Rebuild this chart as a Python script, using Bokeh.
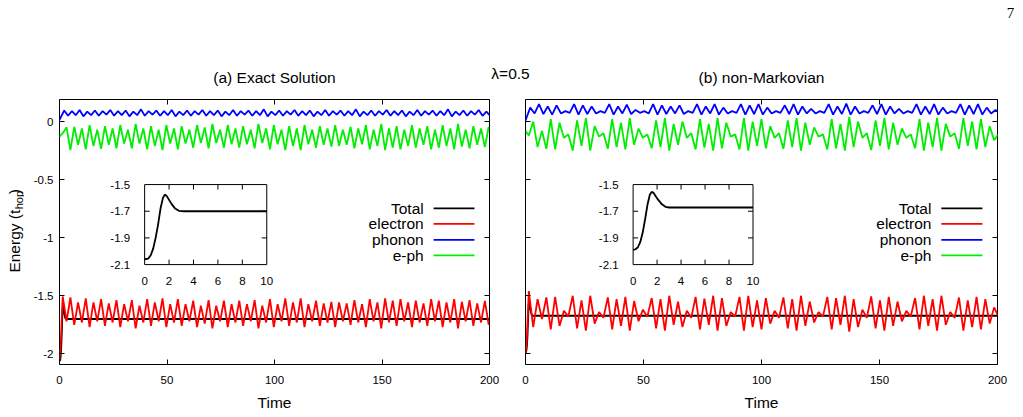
import numpy as np
from bokeh.plotting import figure
from bokeh.models import Range1d, LinearAxis, FixedTicker, CustomJSTickFormatter
from bokeh.layouts import column, row
from bokeh.embed import file_html
from bokeh.resources import INLINE
from bokeh.core.properties import value

# ---------------------------------------------------------------- data
x_ticks = [0, 50, 100, 150, 200]
y_ticks = [0, -0.5, -1, -1.5, -2]
inset_x_ticks = [0, 2, 4, 6, 8, 10]
inset_y_ticks = [-1.5, -1.7, -1.9, -2.1]
series_names = ["Total", "electron", "phonon", "e-ph"]

# (a) exact solution -------------------------------------------------
total_a_t = [0.0, 0.3, 0.5, 0.7, 0.9, 1.1, 1.3, 1.5, 1.65, 1.8, 2.0, 2.2, 2.5, 2.8, 3.2, 10.0, 200.0]
total_a = [-2.06, -2.055, -2.03, -1.98, -1.90, -1.80, -1.68, -1.60, -1.575, -1.585, -1.615,
           -1.645, -1.68, -1.697, -1.70, -1.70, -1.70]

# electron energy: start-up, then successive maxima / minima
elec_a_start_t = [0.0, 0.6]
elec_a_start = [-2.05, -1.90]
elec_a_max = [-1.506, -1.515, -1.557, -1.523, -1.557, -1.529, -1.566, -1.537,
              -1.572, -1.537, -1.586, -1.529, -1.557, -1.523, -1.572, -1.529,
              -1.572, -1.543, -1.586, -1.537, -1.586, -1.543, -1.572, -1.543,
              -1.572, -1.537, -1.586, -1.529, -1.572, -1.523, -1.557, -1.523,
              -1.572, -1.543, -1.566, -1.552, -1.557, -1.566, -1.537, -1.572,
              -1.529, -1.557, -1.523, -1.543, -1.529, -1.557, -1.543, -1.566,
              -1.529, -1.543, -1.557, -1.529, -1.552, -1.537, -1.566, -1.545]
elec_a_min = [-1.72, -1.75, -1.73, -1.77, -1.72, -1.76, -1.73, -1.77,
              -1.72, -1.78, -1.73, -1.76, -1.72, -1.77, -1.73, -1.76,
              -1.72, -1.77, -1.74, -1.78, -1.72, -1.77, -1.73, -1.76,
              -1.72, -1.78, -1.73, -1.77, -1.72, -1.76, -1.73, -1.77,
              -1.72, -1.76, -1.73, -1.77, -1.72, -1.75, -1.73, -1.77,
              -1.72, -1.78, -1.73, -1.76, -1.72, -1.77, -1.73, -1.76,
              -1.72, -1.77, -1.73, -1.78, -1.72, -1.76, -1.73, -1.75]

phon_a_start_t = [0.0]
phon_a_start = [0.015]
phon_a_max = [0.095, 0.09, 0.10, 0.085, 0.095, 0.09, 0.10, 0.09,
              0.095, 0.085, 0.105, 0.09, 0.095, 0.09, 0.10, 0.085,
              0.095, 0.09, 0.10, 0.09, 0.095, 0.085, 0.10, 0.09,
              0.095, 0.09, 0.105, 0.085, 0.095, 0.09, 0.10, 0.09,
              0.095, 0.085, 0.10, 0.09, 0.095, 0.09, 0.105, 0.085,
              0.095, 0.09, 0.10, 0.09, 0.095, 0.085, 0.10, 0.09,
              0.095, 0.09, 0.105, 0.085, 0.095, 0.09, 0.10, 0.085]
phon_a_min = [0.05, 0.055, 0.045, 0.055, 0.05, 0.06, 0.05, 0.055,
              0.045, 0.055, 0.05, 0.06, 0.05, 0.055, 0.045, 0.055,
              0.05, 0.06, 0.05, 0.055, 0.045, 0.055, 0.05, 0.06,
              0.05, 0.055, 0.045, 0.055, 0.05, 0.06, 0.05, 0.055,
              0.045, 0.055, 0.05, 0.06, 0.05, 0.055, 0.045, 0.055,
              0.05, 0.06, 0.05, 0.055, 0.045, 0.055, 0.05, 0.06,
              0.05, 0.055, 0.045, 0.055, 0.05, 0.06, 0.05, 0.05]

eph_a_start_t = [0.0]
eph_a_start = [-0.13]
eph_a_min = [-0.10, -0.245, -0.20, -0.24, -0.21, -0.235, -0.20, -0.23,
             -0.19, -0.23, -0.19, -0.24, -0.21, -0.245, -0.19, -0.24,
             -0.19, -0.225, -0.185, -0.23, -0.185, -0.225, -0.195, -0.225,
             -0.195, -0.23, -0.185, -0.24, -0.195, -0.245, -0.21, -0.245,
             -0.195, -0.225, -0.20, -0.215, -0.21, -0.20, -0.23, -0.195,
             -0.24, -0.21, -0.245, -0.225, -0.24, -0.21, -0.225, -0.20,
             -0.24, -0.225, -0.21, -0.24, -0.215, -0.23, -0.20, -0.22]
eph_a_max = [-0.05, -0.045, -0.06, -0.03, -0.07, -0.04, -0.06, -0.03,
             -0.07, -0.02, -0.06, -0.04, -0.07, -0.03, -0.06, -0.04,
             -0.07, -0.03, -0.05, -0.02, -0.07, -0.03, -0.06, -0.04,
             -0.07, -0.02, -0.06, -0.03, -0.07, -0.04, -0.06, -0.03,
             -0.07, -0.04, -0.06, -0.03, -0.07, -0.045, -0.06, -0.03,
             -0.07, -0.02, -0.06, -0.04, -0.07, -0.03, -0.06, -0.04,
             -0.07, -0.03, -0.06, -0.02, -0.07, -0.04, -0.06, -0.045]

# (b) non-Markovian ----------------------------------------------------
total_b_t = [0.0, 0.2, 0.4, 0.6, 0.8, 1.0, 1.2, 1.4, 1.55, 1.7, 1.9, 2.1, 2.4, 2.7, 3.0, 10.0, 200.0]
total_b = [-1.99, -1.985, -1.97, -1.93, -1.86, -1.76, -1.65, -1.575, -1.555, -1.562, -1.59,
           -1.615, -1.648, -1.667, -1.672, -1.672, -1.672]

elec_b_start_t = [0.0, 0.5]
elec_b_start = [-2.00, -1.90]
elec_b_max = [-1.46, -1.53, -1.515, -1.51, -1.63, -1.50, -1.54, -1.50, -1.64,
              -1.515, -1.53, -1.51, -1.545, -1.62, -1.52, -1.53, -1.50, -1.55,
              -1.63, -1.51, -1.525, -1.50, -1.52, -1.64, -1.51, -1.50, -1.54,
              -1.52, -1.63, -1.515, -1.53, -1.50, -1.55, -1.64, -1.51, -1.52,
              -1.50, -1.53, -1.62, -1.505, -1.54, -1.51, -1.55, -1.63, -1.52,
              -1.50, -1.53, -1.50, -1.64, -1.515, -1.54, -1.51, -1.53, -1.60]
elec_b_min = [-1.77, -1.70, -1.79, -1.76, -1.68, -1.78, -1.80, -1.74, -1.69,
              -1.79, -1.76, -1.80, -1.72, -1.68, -1.78, -1.80, -1.75, -1.77,
              -1.69, -1.79, -1.75, -1.80, -1.76, -1.68, -1.80, -1.77, -1.79,
              -1.74, -1.69, -1.78, -1.80, -1.76, -1.73, -1.68, -1.79, -1.75,
              -1.81, -1.77, -1.69, -1.78, -1.80, -1.76, -1.72, -1.68, -1.79,
              -1.76, -1.80, -1.75, -1.69, -1.80, -1.77, -1.79, -1.74, -1.68]

phon_b_start_t = [0.0]
phon_b_start = [0.01]
phon_b_max = [0.12, 0.15, 0.13, 0.14, 0.09, 0.15, 0.14, 0.13, 0.09,
              0.15, 0.13, 0.145, 0.10, 0.09, 0.15, 0.14, 0.13, 0.14,
              0.09, 0.15, 0.13, 0.15, 0.12, 0.09, 0.15, 0.14, 0.15,
              0.12, 0.09, 0.14, 0.15, 0.13, 0.11, 0.09, 0.15, 0.13,
              0.155, 0.13, 0.09, 0.14, 0.15, 0.13, 0.11, 0.09, 0.15,
              0.13, 0.15, 0.12, 0.09, 0.15, 0.14, 0.15, 0.12, 0.10]
phon_b_min = [0.07, 0.065, 0.06, 0.07, 0.075, 0.06, 0.065, 0.07, 0.075,
              0.06, 0.07, 0.065, 0.075, 0.07, 0.06, 0.065, 0.07, 0.065,
              0.075, 0.06, 0.07, 0.06, 0.07, 0.075, 0.06, 0.065, 0.06,
              0.07, 0.075, 0.065, 0.06, 0.07, 0.07, 0.075, 0.06, 0.065,
              0.06, 0.07, 0.075, 0.065, 0.06, 0.07, 0.07, 0.075, 0.06,
              0.065, 0.06, 0.07, 0.075, 0.06, 0.065, 0.06, 0.07, 0.07]

eph_b_start_t = [0.0]
eph_b_start = [-0.08]
eph_b_min = [-0.12, -0.22, -0.235, -0.24, -0.14, -0.25, -0.21, -0.25, -0.13,
             -0.235, -0.22, -0.24, -0.20, -0.14, -0.23, -0.22, -0.25, -0.20,
             -0.14, -0.24, -0.225, -0.25, -0.23, -0.13, -0.24, -0.25, -0.21,
             -0.23, -0.14, -0.235, -0.22, -0.25, -0.20, -0.13, -0.24, -0.23,
             -0.25, -0.22, -0.14, -0.245, -0.21, -0.24, -0.20, -0.14, -0.23,
             -0.25, -0.22, -0.25, -0.13, -0.235, -0.21, -0.24, -0.22, -0.16]
eph_b_max = [0.0, -0.08, 0.02, -0.01, -0.11, 0.01, 0.03, -0.04, -0.10,
             0.02, -0.01, 0.03, -0.06, -0.11, 0.01, 0.03, -0.02, 0.0,
             -0.10, 0.02, -0.02, 0.03, -0.01, -0.11, 0.03, 0.0, 0.02,
             -0.04, -0.10, 0.01, 0.03, -0.01, -0.05, -0.11, 0.02, -0.02,
             0.04, 0.0, -0.10, 0.01, 0.03, -0.01, -0.06, -0.11, 0.02,
             -0.01, 0.03, -0.02, -0.10, 0.03, 0.0, 0.02, -0.04, -0.11]

# sampling of the extrema (start time, half oscillation period)
SAMPLING = {
    "elec_a": (1.5, 1.785), "phon_a": (2.2, 1.785), "eph_a": (1.5, 1.785),
    "elec_b": (1.4, 1.86), "phon_b": (2.0, 1.86), "eph_b": (1.4, 1.86),
}

# ---------------------------------------------------------------- style
FONT = "Liberation Sans"
LINE_COLORS = ["black", "#ff0000", "#0000ff", "#00ee00"]
LINE_W = 1.8
T_RANGE = (0, 200)
E_RANGE = (-2.092, 0.19)
INSET_T = (0, 10)
INSET_E = (-2.1, -1.5)
PANEL_H = 327
BORDER_TOP = 9
BORDER_BOTTOM = 53
FRAME_H = PANEL_H - BORDER_TOP - BORDER_BOTTOM
INSET_Y = (0.377, 0.679)           # inset box, fraction of frame height
LEGEND_Y = [0.589, 0.531, 0.470, 0.412]
PANELS = {
    "a": dict(width=483, left=35, right=18, inset_x=(0.198, 0.482),
              legend_x=(0.847, 0.870, 0.965), y_labels=True),
    "b": dict(width=516, left=18, right=26, inset_x=(0.228, 0.482),
              legend_x=(0.860, 0.881, 0.968), y_labels=False),
}


def alternate(key, first, second, start_t, start_v):
    t0, half = SAMPLING[key]
    n = min(len(first), len(second))
    t = t0 + half * np.arange(2 * n)
    y = np.empty(2 * n)
    y[0::2] = first[:n]
    y[1::2] = second[:n]
    return np.concatenate([start_t, t]), np.concatenate([start_v, y])


def style_axis(ax, show_labels, standoff=5):
    ax.axis_line_color = None
    ax.major_tick_in = 5
    ax.major_tick_out = 0
    ax.major_tick_line_color = "black"
    ax.minor_tick_line_color = None
    ax.major_label_text_font = FONT
    if show_labels:
        ax.major_label_text_color = "black"
        ax.major_label_text_font_size = "11.5px"
        ax.major_label_standoff = standoff
    else:
        # tick marks only: labels are not painted at all
        ax.major_label_text_color = None
        ax.major_label_text_font_size = "1px"
        ax.major_label_standoff = 0


def build_panel(cfg, series, total_t, total_v):
    frame_w = cfg["width"] - cfg["left"] - cfg["right"]
    p = figure(width=cfg["width"], height=PANEL_H,
               x_range=Range1d(*T_RANGE), y_range=Range1d(*E_RANGE),
               output_backend="svg", toolbar_location=None,
               min_border_left=cfg["left"], min_border_right=cfg["right"],
               min_border_top=BORDER_TOP, min_border_bottom=BORDER_BOTTOM)
    p.grid.visible = False
    p.outline_line_color = "black"
    p.outline_line_width = 1
    p.outline_line_alpha = 1

    xa = p.xaxis[0]
    xa.ticker = FixedTicker(ticks=x_ticks)
    style_axis(xa, True, standoff=11)
    xa.axis_label = "Time"
    xa.axis_label_text_font = FONT
    xa.axis_label_text_font_size = "15.5px"
    xa.axis_label_text_font_style = "normal"
    xa.axis_label_text_color = "black"
    xa.axis_label_standoff = 7

    ya = p.yaxis[0]
    ya.ticker = FixedTicker(ticks=y_ticks)
    ya.formatter = CustomJSTickFormatter(code="return String(tick)")
    style_axis(ya, cfg["y_labels"], standoff=6)

    top = LinearAxis(ticker=FixedTicker(ticks=x_ticks))
    style_axis(top, False)
    p.add_layout(top, "above")
    right = LinearAxis(ticker=FixedTicker(ticks=y_ticks))
    style_axis(right, False)
    p.add_layout(right, "right")

    for (t, v), color in zip(series, LINE_COLORS):
        p.line(t, v, line_color=color, line_width=LINE_W)

    # inset: its own ranges, mapped onto a box inside the frame
    a, b = cfg["inset_x"]
    c, d = INSET_Y
    sx = (INSET_T[1] - INSET_T[0]) / (b - a)
    sy = (INSET_E[1] - INSET_E[0]) / (d - c)
    p.extra_x_ranges = {"ix": Range1d(INSET_T[0] - a * sx, INSET_T[0] + (1 - a) * sx),
                        "fx": Range1d(0, 1)}
    p.extra_y_ranges = {"iy": Range1d(INSET_E[0] - c * sy, INSET_E[0] + (1 - c) * sy),
                        "fy": Range1d(0, 1)}
    ins = dict(x_range_name="ix", y_range_name="iy")
    p.quad(left=[INSET_T[0]], right=[INSET_T[1]], bottom=[INSET_E[0]], top=[INSET_E[1]],
           fill_color="white", line_color="black", line_width=1, **ins)

    tick_dy = 5 * sy / FRAME_H
    tick_dx = 5 * sx / frame_w
    xt = [v for v in inset_x_ticks if INSET_T[0] < v < INSET_T[1]]
    yt = [v for v in inset_y_ticks if INSET_E[0] < v < INSET_E[1]]
    p.segment(x0=xt, y0=[INSET_E[0]] * len(xt), x1=xt, y1=[INSET_E[0] + tick_dy] * len(xt),
              line_color="black", line_width=1, **ins)
    p.segment(x0=xt, y0=[INSET_E[1]] * len(xt), x1=xt, y1=[INSET_E[1] - tick_dy] * len(xt),
              line_color="black", line_width=1, **ins)
    p.segment(x0=[INSET_T[0]] * len(yt), y0=yt, x1=[INSET_T[0] + tick_dx] * len(yt), y1=yt,
              line_color="black", line_width=1, **ins)
    p.segment(x0=[INSET_T[1]] * len(yt), y0=yt, x1=[INSET_T[1] - tick_dx] * len(yt), y1=yt,
              line_color="black", line_width=1, **ins)
    p.text(x=inset_x_ticks, y=[INSET_E[0]] * len(inset_x_ticks),
           text=[f"{v:g}" for v in inset_x_ticks], y_offset=16,
           text_align="center", text_baseline="middle", text_color="black",
           text_font=value(FONT), text_font_size="11.5px", **ins)
    p.text(x=[INSET_T[0]] * len(inset_y_ticks), y=inset_y_ticks,
           text=[f"{v:g}" for v in inset_y_ticks], x_offset=-14.5,
           text_align="right", text_baseline="middle", text_color="black",
           text_font=value(FONT), text_font_size="11.5px", **ins)
    tt = np.asarray(total_t)
    tv = np.asarray(total_v)
    keep = tt <= INSET_T[1]
    p.line(tt[keep], tv[keep], line_color="black", line_width=LINE_W, **ins)

    # key: labels to the left of the line samples
    lx_text, lx0, lx1 = cfg["legend_x"]
    key = dict(x_range_name="fx", y_range_name="fy")
    p.text(x=[lx_text] * 4, y=LEGEND_Y, text=series_names, text_align="right",
           text_baseline="middle", text_color="black", text_font=value(FONT),
           text_font_size="15.5px", **key)
    p.segment(x0=[lx0] * 4, y0=LEGEND_Y, x1=[lx1] * 4, y1=LEGEND_Y,
              line_color=LINE_COLORS, line_width=LINE_W, **key)
    return p


series_a = [
    (np.asarray(total_a_t), np.asarray(total_a)),
    alternate("elec_a", elec_a_max, elec_a_min, elec_a_start_t, elec_a_start),
    alternate("phon_a", phon_a_max, phon_a_min, phon_a_start_t, phon_a_start),
    alternate("eph_a", eph_a_min, eph_a_max, eph_a_start_t, eph_a_start),
]
series_b = [
    (np.asarray(total_b_t), np.asarray(total_b)),
    alternate("elec_b", elec_b_max, elec_b_min, elec_b_start_t, elec_b_start),
    alternate("phon_b", phon_b_max, phon_b_min, phon_b_start_t, phon_b_start),
    alternate("eph_b", eph_b_min, eph_b_max, eph_b_start_t, eph_b_start),
]

pa = build_panel(PANELS["a"], series_a, total_a_t, total_a)
pb = build_panel(PANELS["b"], series_b, total_b_t, total_b)


def blank(width, height):
    f = figure(width=width, height=height, x_range=Range1d(0, width), y_range=Range1d(0, height),
               output_backend="svg", toolbar_location=None, min_border=0,
               x_axis_location=None, y_axis_location=None)
    f.grid.visible = False
    f.outline_line_color = None
    return f


# header strip with panel titles, parameter and page number
head = blank(1023, 90)
head.text(x=[274, 761], y=[13, 13], text=["(a) Exact Solution", "(b) non-Markovian"],
          text_align="center", text_baseline="middle", text_color="black",
          text_font=value(FONT), text_font_size="15.5px")
head.text(x=[510], y=[17], text=["λ=0.5"], text_align="center", text_baseline="middle",
          text_color="black", text_font=value(FONT), text_font_size="15.5px")
head.text(x=[1010], y=[78], text=["7"], text_align="center", text_baseline="middle",
          text_color="black", text_font=value("Liberation Serif"), text_font_size="15px")

# vertical axis title with subscript; the pieces meet where "(t" ends
ylab = blank(24, PANEL_H)
ylab.text(x=[13.5], y=[191], text=["Energy (t"], angle=np.pi / 2, text_align="right",
          text_baseline="middle", text_color="black", text_font=value(FONT),
          text_font_size="15.5px")
ylab.text(x=[18.5], y=[191.5], text=["hop"], angle=np.pi / 2, text_align="left",
          text_baseline="middle", text_color="black", text_font=value(FONT),
          text_font_size="11px")
ylab.text(x=[13.5], y=[210], text=[")"], angle=np.pi / 2, text_align="left",
          text_baseline="middle", text_color="black", text_font=value(FONT),
          text_font_size="15.5px")

layout = column(head, row(ylab, pa, pb))
open("out.html", "w").write(file_html(layout, INLINE))
